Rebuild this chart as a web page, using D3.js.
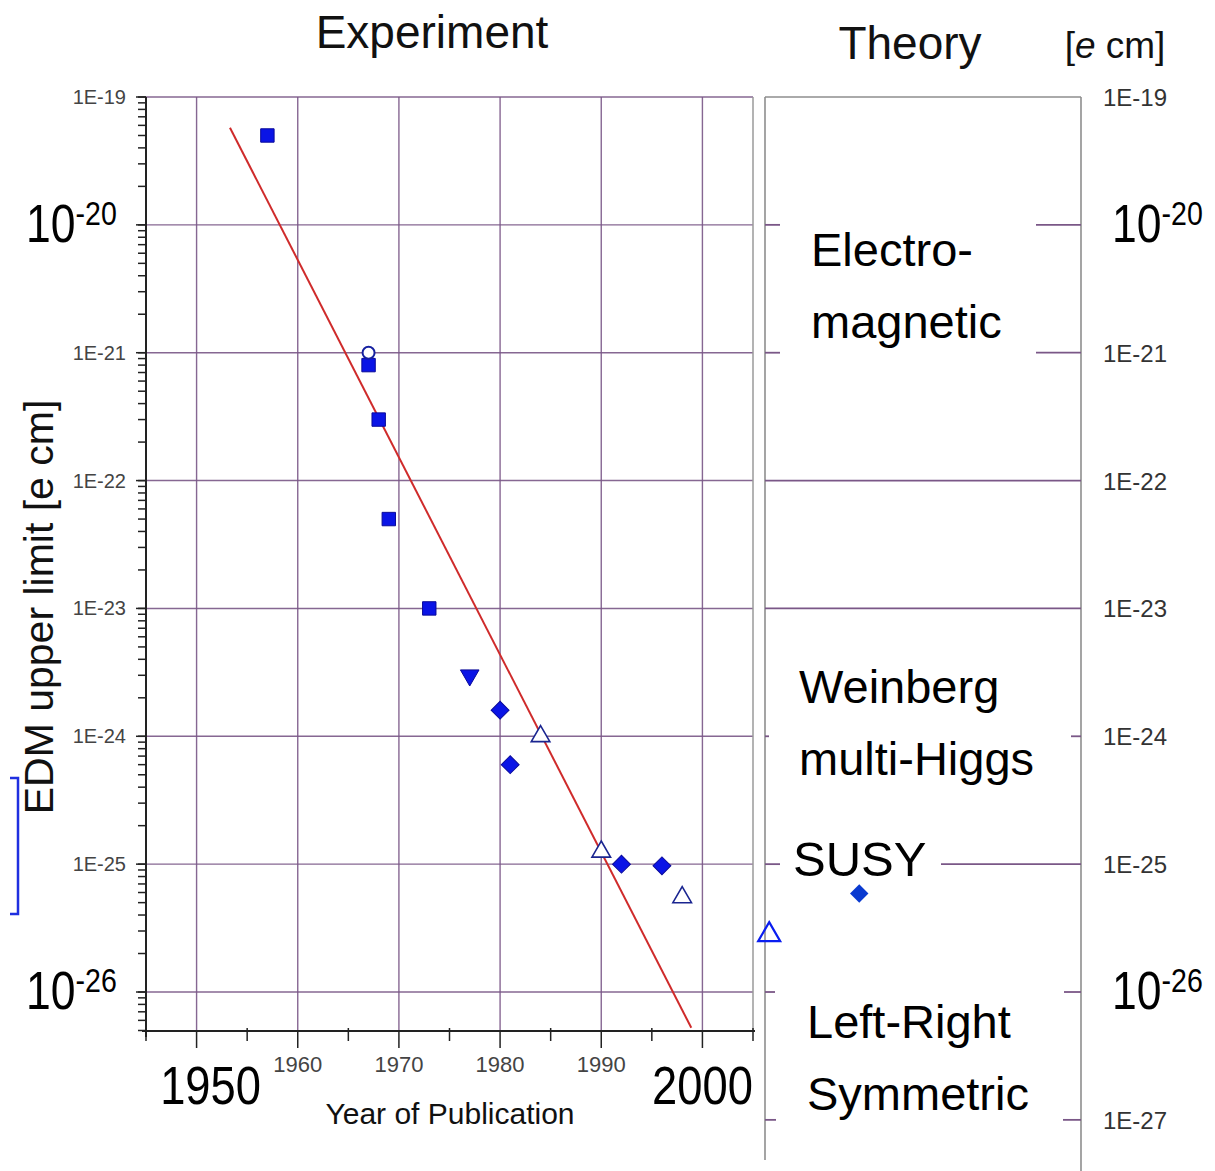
<!DOCTYPE html>
<html><head><meta charset="utf-8">
<script src="https://cdn.jsdelivr.net/npm/d3@7"></script>
<style>
body{margin:0;background:#fff;}
text{font-family:Arial,"Liberation Sans",Helvetica,sans-serif;}
</style></head>
<body>
<svg id="c" width="1215" height="1171"></svg>
<script>
// ---------- data ----------
const xDomain = [1945, 2005];
const yTopExp = -19, yBottomExp = -26.305;
const decadeExps = [-19, -20, -21, -22, -23, -24, -25, -26];
const rightDecadeExps = [-19, -20, -21, -22, -23, -24, -25, -26, -27];
const bigExps = [-20, -26];
const majorYears = [1950, 1960, 1970, 1980, 1990, 2000];
const minorYears = [1945, 1955, 1965, 1975, 1985, 1995, 2005];
const smallYearLabels = ["1960", "1970", "1980", "1990"];
const bigYearLabels = ["1950", "2000"];

// measurements: year, EDM upper limit [e cm]
const squareYears  = [1957, 1967, 1968, 1969, 1973];
const squareValues = [5e-20, 8e-22, 3e-22, 5e-23, 1e-23];
const circleYears  = [1967];
const circleValues = [1e-21];
const downTriYears  = [1977];
const downTriValues = [3e-24];
const diamondYears  = [1980, 1981, 1992, 1996];
const diamondValues = [1.6e-24, 6e-25, 1e-25, 0.97e-25];
const openTriYears  = [1984, 1990, 1998];
const openTriValues = [1e-24, 1.25e-25, 5.5e-26];
// projected points shown in the theory column (on extended year scale)
const projTriYears = [2006.6];
const projTriValues = [2.8e-26];
const projDiamondYears = [2015.5];
const projDiamondValues = [5.9e-26];
// fitted trend line
const fitYears  = [1953.3, 1998.9];
const fitValues = [Math.pow(10, -19.24), Math.pow(10, -26.28)];

// theory column
const theoryFullLines = [-22, -23];
const theoryTicks = [-20, -21, -24, -26, -27];
const theoryLabels = [
  {lines: ["Electro-", "magnetic"], exp: -20.32},
  {lines: ["Weinberg", "multi-Higgs"], exp: -23.74},
  {lines: ["SUSY"], exp: -25.095},
  {lines: ["Left-Right", "Symmetric"], exp: -26.36}
];

// ---------- layout ----------
const svg = d3.select("#c");
const L = 146, R = 753, T = 97, B = 1031;
const TL = 765, TR = 1081;
const x = d3.scaleLinear().domain(xDomain).range([L, R]);
const y = d3.scaleLog().domain([Math.pow(10, yTopExp), Math.pow(10, yBottomExp)]).range([T, B]);
const ye = e => y(Math.pow(10, e));
const gridCol = "#7a5787";
const blue = "#0a14e6";

// grid
const g = svg.append("g");
g.selectAll(".vg").data(majorYears).join("line")
  .attr("x1", d => x(d)).attr("x2", d => x(d)).attr("y1", T).attr("y2", B)
  .attr("stroke", gridCol).attr("stroke-width", 1.4).attr("opacity", 0.9);
g.selectAll(".hg").data(decadeExps).join("line")
  .attr("x1", L).attr("x2", R).attr("y1", d => ye(d)).attr("y2", d => ye(d))
  .attr("stroke", gridCol).attr("stroke-width", 1.4).attr("opacity", 0.9);
// right frame of experiment panel
g.append("line").attr("x1", R).attr("x2", R).attr("y1", T).attr("y2", B)
  .attr("stroke", "#9a9a9a").attr("stroke-width", 1.5);

// left axis
const minorVals = y.ticks().filter(v => v <= y.domain()[0] * 1.0001 && v >= y.domain()[1]);
g.selectAll(".ymin").data(minorVals).join("line")
  .attr("x1", L - 8).attr("x2", L).attr("y1", d => y(d)).attr("y2", d => y(d))
  .attr("stroke", "#222").attr("stroke-width", 1.5);
g.selectAll(".ymaj").data(decadeExps).join("line")
  .attr("x1", L - 10).attr("x2", L).attr("y1", d => ye(d)).attr("y2", d => ye(d))
  .attr("stroke", "#222").attr("stroke-width", 1.5);
g.append("line").attr("x1", L).attr("x2", L).attr("y1", T).attr("y2", B + 6)
  .attr("stroke", "#222").attr("stroke-width", 2);

// bottom axis
g.append("line").attr("x1", L - 4).attr("x2", R + 2).attr("y1", B).attr("y2", B)
  .attr("stroke", "#222").attr("stroke-width", 2);
g.selectAll(".xmaj").data(majorYears).join("line")
  .attr("x1", d => x(d)).attr("x2", d => x(d)).attr("y1", B).attr("y2", B + 17)
  .attr("stroke", "#222").attr("stroke-width", 1.5);
g.selectAll(".xmin").data(minorYears).join("line")
  .attr("x1", d => x(d)).attr("x2", d => x(d)).attr("y1", B - 3).attr("y2", B + 10)
  .attr("stroke", "#222").attr("stroke-width", 1.5);

// helper for "10^n" labels
function powerLabel(px, py, n, anchor) {
  const grp = svg.append("g").attr("transform", `translate(${px},${py}) scale(0.84,1)`);
  const t = grp.append("text").attr("x", 0).attr("y", 0).attr("text-anchor", anchor || "start")
    .attr("fill", "#000").attr("font-size", 53);
  t.append("tspan").text("10");
  t.append("tspan").attr("font-size", 34).attr("dy", -17).text(String(n));
}

// left y labels
const smallLeft = decadeExps.filter(e => !bigExps.includes(e));
svg.selectAll(".yl").data(smallLeft).join("text")
  .attr("x", 126).attr("y", d => ye(d) + 7).attr("text-anchor", "end")
  .attr("font-size", 20).attr("fill", "#444")
  .text(d => "1E" + d);
bigExps.forEach(e => powerLabel(26, ye(e) + 17, e));

// bottom labels
svg.selectAll(".xl").data(smallYearLabels).join("text")
  .attr("x", d => x(+d)).attr("y", 1072).attr("text-anchor", "middle")
  .attr("font-size", 22).attr("fill", "#444").text(d => d);
bigYearLabels.forEach(s => {
  svg.append("g").attr("transform", `translate(${x(+s) + (s === "1950" ? 14 : 0)},1104) scale(0.84,1)`)
    .append("text").attr("text-anchor", "middle").attr("font-size", 54).attr("fill", "#000").text(s);
});
svg.append("text").attr("x", 450).attr("y", 1124).attr("text-anchor", "middle")
  .attr("font-size", 30).attr("fill", "#111").text("Year of Publication");

// y axis title
svg.append("text").attr("transform", "translate(53,607) rotate(-90)")
  .attr("text-anchor", "middle").attr("font-size", 41).attr("fill", "#111")
  .text("EDM upper limit [e cm]");
// blue bracket
svg.append("path").attr("d", "M10,778 H18 V914 H10").attr("fill", "none")
  .attr("stroke", "#1f2fe0").attr("stroke-width", 2.5);

// titles
svg.append("text").attr("x", 432).attr("y", 48).attr("text-anchor", "middle")
  .attr("font-size", 46).attr("fill", "#111").text("Experiment");
svg.append("text").attr("x", 910).attr("y", 59).attr("text-anchor", "middle")
  .attr("font-size", 46).attr("fill", "#111").text("Theory");
const ecm = svg.append("text").attr("x", 1115).attr("y", 58).attr("text-anchor", "middle")
  .attr("font-size", 37).attr("fill", "#111");
ecm.append("tspan").text("[");
ecm.append("tspan").attr("font-style", "italic").text("e");
ecm.append("tspan").text(" cm]");

// theory panel frame
svg.append("line").attr("x1", TL).attr("x2", TL).attr("y1", T).attr("y2", 1160)
  .attr("stroke", "#8e8e8e").attr("stroke-width", 1.6);
svg.append("line").attr("x1", TR).attr("x2", TR).attr("y1", T).attr("y2", 1171)
  .attr("stroke", "#8e8e8e").attr("stroke-width", 1.6);
svg.append("line").attr("x1", TL).attr("x2", TR).attr("y1", T).attr("y2", T)
  .attr("stroke", "#8e8e8e").attr("stroke-width", 1.6);
svg.selectAll(".tf").data(theoryFullLines).join("line")
  .attr("x1", TL).attr("x2", TR).attr("y1", d => ye(d)).attr("y2", d => ye(d))
  .attr("stroke", gridCol).attr("stroke-width", 1.8);
const leftLen = {"-20": 15, "-21": 15, "-24": 4, "-26": 10, "-27": 11};
const rightLen = {"-20": 45, "-21": 45, "-24": 10, "-26": 17, "-27": 18};
svg.selectAll(".tl").data(theoryTicks).join("line")
  .attr("x1", TL).attr("x2", d => TL + leftLen[d]).attr("y1", d => ye(d)).attr("y2", d => ye(d))
  .attr("stroke", gridCol).attr("stroke-width", 1.8);
svg.selectAll(".tr").data(theoryTicks).join("line")
  .attr("x1", d => TR - rightLen[d]).attr("x2", TR).attr("y1", d => ye(d)).attr("y2", d => ye(d))
  .attr("stroke", gridCol).attr("stroke-width", 1.8);
// SUSY line at 1E-25
svg.append("line").attr("x1", 941).attr("x2", TR).attr("y1", ye(-25)).attr("y2", ye(-25))
  .attr("stroke", gridCol).attr("stroke-width", 1.8);
svg.append("line").attr("x1", TL).attr("x2", TL + 15).attr("y1", ye(-25)).attr("y2", ye(-25))
  .attr("stroke", gridCol).attr("stroke-width", 1.8);

// right labels
svg.selectAll(".rl").data(rightDecadeExps.filter(e => !bigExps.includes(e))).join("text")
  .attr("x", 1103).attr("y", d => ye(d) + 9).attr("font-size", 24).attr("fill", "#333")
  .text(d => "1E" + d);
bigExps.forEach(e => powerLabel(1112, ye(e) + 17, e));

// theory labels
const tx = {"Electro-": 811, "Weinberg": 799, "SUSY": 793, "Left-Right": 807};
theoryLabels.forEach(lb => {
  const t = svg.append("text").attr("x", tx[lb.lines[0]]).attr("y", ye(lb.exp))
    .attr("font-size", lb.lines[0] === "SUSY" ? 49 : 47).attr("fill", "#000");
  lb.lines.forEach((s, i) => t.append("tspan").attr("x", tx[lb.lines[0]]).attr("dy", i ? 72 : 0).text(s));
});

// fit line
svg.append("path").datum(fitYears.map((yr, i) => [yr, fitValues[i]]))
  .attr("d", d3.line().x(d => x(d[0])).y(d => y(d[1])))
  .attr("fill", "none").attr("stroke", "#cf2b2b").attr("stroke-width", 2);

// markers
const sq = d3.symbol().type(d3.symbolSquare).size(180);
const dia = d3.symbol().type(d3.symbolSquare).size(160);
const triUp = d3.symbol().type(d3.symbolTriangle).size(150);
function pts(years, vals) { return years.map((yr, i) => ({yr, v: vals[i]})); }

svg.selectAll(".sq").data(pts(squareYears, squareValues)).join("path")
  .attr("d", sq).attr("transform", d => `translate(${x(d.yr)},${y(d.v)})`)
  .attr("fill", blue).attr("stroke", "#0a0a9a").attr("stroke-width", 1);
svg.selectAll(".ci").data(pts(circleYears, circleValues)).join("circle")
  .attr("cx", d => x(d.yr)).attr("cy", d => y(d.v)).attr("r", 6)
  .attr("fill", "#fff").attr("stroke", "#1520a0").attr("stroke-width", 2);
svg.selectAll(".dt").data(pts(downTriYears, downTriValues)).join("path")
  .attr("d", triUp).attr("transform", d => `translate(${x(d.yr)},${y(d.v)}) rotate(180)`)
  .attr("fill", blue).attr("stroke", "#0a0a9a").attr("stroke-width", 1);
svg.selectAll(".di").data(pts(diamondYears, diamondValues)).join("path")
  .attr("d", dia).attr("transform", d => `translate(${x(d.yr)},${y(d.v)}) rotate(45)`)
  .attr("fill", blue).attr("stroke", "#0a0a9a").attr("stroke-width", 1);
svg.selectAll(".ot").data(pts(openTriYears, openTriValues)).join("path")
  .attr("d", triUp).attr("transform", d => `translate(${x(d.yr)},${y(d.v)})`)
  .attr("fill", "#fff").attr("stroke", "#1a2590").attr("stroke-width", 1.6);
svg.selectAll(".pt").data(pts(projTriYears, projTriValues)).join("path")
  .attr("d", d3.symbol().type(d3.symbolTriangle).size(210))
  .attr("transform", d => `translate(${x(d.yr)},${y(d.v)})`)
  .attr("fill", "none").attr("stroke", "#0a1ef0").attr("stroke-width", 2.2);
svg.selectAll(".pd").data(pts(projDiamondYears, projDiamondValues)).join("path")
  .attr("d", d3.symbol().type(d3.symbolSquare).size(170))
  .attr("transform", d => `translate(${x(d.yr)},${y(d.v)}) rotate(45)`)
  .attr("fill", "#0a3ad0");
</script>
</body></html>
